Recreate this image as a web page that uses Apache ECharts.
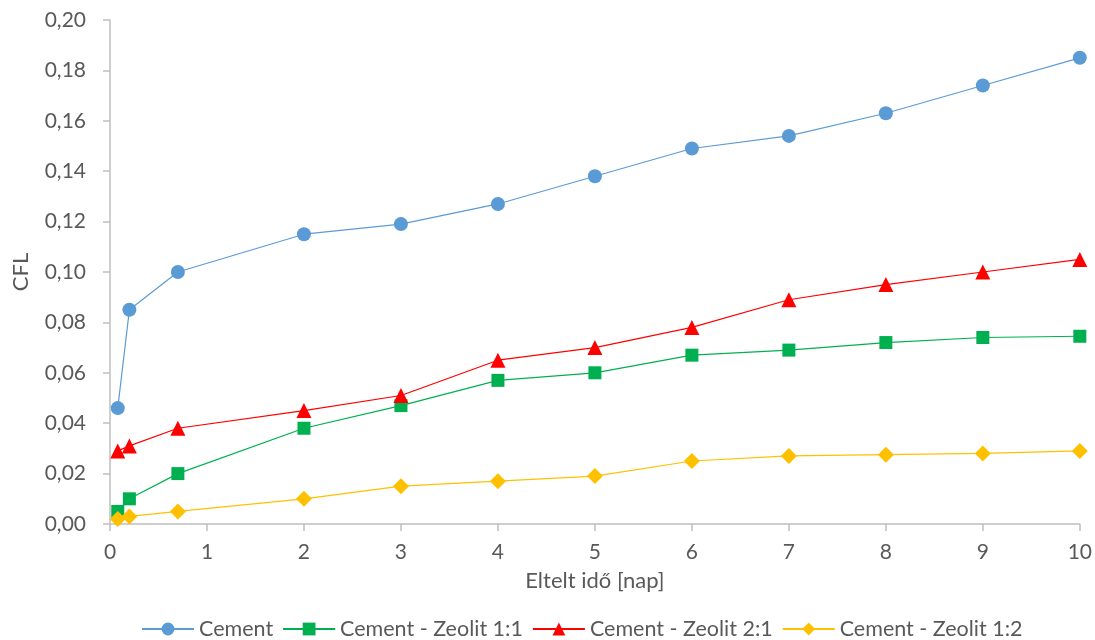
<!DOCTYPE html>
<html><head><meta charset="utf-8">
<script src="https://cdn.jsdelivr.net/npm/echarts@6/dist/echarts.min.js"></script>
<style>html,body{margin:0;padding:0;background:#fff}#c{width:1095px;height:640px}</style>
</head><body><div id="c"></div>
<script>
const days = [0.08, 0.2, 0.7, 2, 3, 4, 5, 6, 7, 8, 9, 10];
const seriesNames = ['Cement', 'Cement - Zeolit 1:1', 'Cement - Zeolit 2:1', 'Cement - Zeolit 1:2'];
const cement = [0.046, 0.085, 0.100, 0.115, 0.119, 0.127, 0.138, 0.149, 0.154, 0.163, 0.174, 0.185];
const zeolit11 = [0.005, 0.010, 0.020, 0.038, 0.047, 0.057, 0.060, 0.067, 0.069, 0.072, 0.074, 0.0745];
const zeolit21 = [0.029, 0.031, 0.038, 0.045, 0.051, 0.065, 0.070, 0.078, 0.089, 0.095, 0.100, 0.105];
const zeolit12 = [0.002, 0.003, 0.005, 0.010, 0.015, 0.017, 0.019, 0.025, 0.027, 0.0275, 0.028, 0.029];

const colors = ['#5B9BD5', '#00B050', '#FF0000', '#FFC000'];
const symbols = ['circle', 'rect', 'triangle', 'diamond'];
const sizes = [14, 13, 15, 16];
const values = [cement, zeolit11, zeolit21, zeolit12];
const font = 'Lato';

const chart = echarts.init(document.getElementById('c'));
chart.setOption({
  animation: false,
  color: colors,
  textStyle: {fontFamily: font},
  grid: {left: 110, right: 14, top: 20, bottom: 116},
  legend: {
    top: 613, left: 136, itemWidth: 52, itemHeight: 16, itemGap: 9,
    textStyle: {fontSize: 21.5, color: '#595959', fontFamily: font},
    data: seriesNames
  },
  xAxis: {
    type: 'value', min: 0, max: 10, interval: 1,
    name: 'Eltelt idő [nap]', nameLocation: 'middle', nameGap: 46,
    nameTextStyle: {fontSize: 22, color: '#595959'},
    axisLine: {lineStyle: {color: '#BFBFBF', width: 1.5}},
    axisTick: {show: true, length: 7, lineStyle: {color: '#BFBFBF', width: 1.5}},
    axisLabel: {fontSize: 21, color: '#595959', margin: 18},
    splitLine: {show: false}
  },
  yAxis: {
    type: 'value', min: 0, max: 0.2, interval: 0.02,
    name: 'CFL', nameLocation: 'middle', nameGap: 78,
    nameTextStyle: {fontSize: 22, color: '#595959'},
    axisLine: {show: true, lineStyle: {color: '#BFBFBF', width: 1.5}},
    axisTick: {show: true, length: 7, lineStyle: {color: '#BFBFBF', width: 1.5}},
    axisLabel: {fontSize: 21, color: '#595959', margin: 24,
      formatter: v => v.toFixed(2).replace('.', ',')},
    splitLine: {show: false}
  },
  series: seriesNames.map((n, i) => ({
    name: n, type: 'line',
    data: days.map((d, j) => [d, values[i][j]]),
    symbol: symbols[i], symbolSize: sizes[i], showAllSymbol: true,
    lineStyle: {width: 1.2, color: colors[i]},
    itemStyle: {color: colors[i]}
  }))
});
</script></body></html>
